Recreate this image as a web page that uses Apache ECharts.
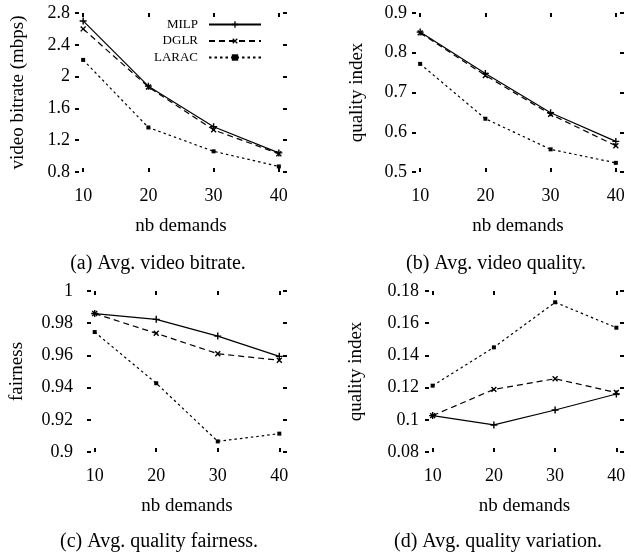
<!DOCTYPE html>
<html><head><meta charset="utf-8">
<script src="https://cdn.jsdelivr.net/npm/echarts@6/dist/echarts.min.js"></script>
<style>html,body{margin:0;padding:0;background:#fff}#c{width:631px;height:554px}</style>
</head><body><div id="c"></div>
<script>
// ---- data ----
const demands = [10, 20, 30, 40];
const seriesNames = ['MILP', 'DGLR', 'LARAC'];

const bitrateMILP  = [2.70, 1.88, 1.37, 1.04];
const bitrateDGLR  = [2.60, 1.87, 1.33, 1.03];
const bitrateLARAC = [2.21, 1.36, 1.06, 0.87];

const qualityMILP  = [0.852, 0.748, 0.649, 0.577];
const qualityDGLR  = [0.850, 0.743, 0.645, 0.566];
const qualityLARAC = [0.772, 0.634, 0.557, 0.523];

const fairnessMILP  = [0.986, 0.9824, 0.972, 0.9594];
const fairnessDGLR  = [0.986, 0.9737, 0.961, 0.957];
const fairnessLARAC = [0.9745, 0.9427, 0.9066, 0.9114];

const variationMILP  = [0.1026, 0.0968, 0.1061, 0.116];
const variationDGLR  = [0.1026, 0.1189, 0.1255, 0.1169];
const variationLARAC = [0.1212, 0.145, 0.173, 0.1572];

const yTicksA = [0.8, 1.2, 1.6, 2, 2.4, 2.8];
const yTicksB = [0.5, 0.6, 0.7, 0.8, 0.9];
const yTicksC = [0.9, 0.92, 0.94, 0.96, 0.98, 1];
const yTicksD = [0.08, 0.1, 0.12, 0.14, 0.16, 0.18];

const captions = ['(a) Avg. video bitrate.', '(b) Avg. video quality.', '(c) Avg. quality fairness.', '(d) Avg. quality variation.'];
const yNames = ['video bitrate (mbps)', 'quality index', 'fairness', 'quality index'];
const xName = 'nb demands';

// ---- styling / layout ----
const FONT = '"Liberation Serif","Times New Roman",serif';
const plusPath = 'path://M0,4H10V6H0Z M4,0H6V10H4Z';
const styles = {
  MILP:  {symbol: plusPath, symbolSize: 7, symbolRotate: 0,  type: 'solid'},
  DGLR:  {symbol: plusPath, symbolSize: 7, symbolRotate: 45, type: [6, 4]},
  LARAC: {symbol: 'rect',   symbolSize: 4, symbolRotate: 0,  type: [2.5, 3]}
};

const panels = [
  {grid: {left: 75, top: 13, width: 212, height: 159}, ticks: yTicksA, nameGap: 47, labelMargin: 5, data: [bitrateMILP, bitrateDGLR, bitrateLARAC], cx: 158, cy: 264},
  {grid: {left: 412, top: 13, width: 212, height: 159}, ticks: yTicksB, nameGap: 45, labelMargin: 5, data: [qualityMILP, qualityDGLR, qualityLARAC], cx: 496, cy: 264},
  {grid: {left: 87, top: 291, width: 200, height: 161}, ticks: yTicksC, nameGap: 60, labelMargin: 14, data: [fairnessMILP, fairnessDGLR, fairnessLARAC], cx: 159, cy: 542},
  {grid: {left: 425, top: 291, width: 199, height: 161}, ticks: yTicksD, nameGap: 59, labelMargin: 6, data: [variationMILP, variationDGLR, variationLARAC], cx: 498, cy: 542}
];

const textBase = {fontFamily: FONT, color: '#000'};
const tickStyle = (inside) => ({show: true, inside: inside, length: 4, lineStyle: {color: '#000', width: 2}});
const grids = [], xAxes = [], yAxes = [], series = [], graphics = [];

panels.forEach((p, i) => {
  const yMin = p.ticks[0], yMax = p.ticks[p.ticks.length - 1];
  const yInt = +(p.ticks[1] - p.ticks[0]).toFixed(6);
  const mkGrid = () => Object.assign({outerBoundsMode: 'none', containLabel: false}, p.grid);
  const xBase = (g) => ({type: 'value', gridIndex: g, min: 8.75, max: 41.25,
    axisLine: {show: false, onZero: false}, splitLine: {show: false}});
  const yBase = (g) => ({type: 'value', gridIndex: g, min: yMin, max: yMax, interval: yInt,
    axisLine: {show: false, onZero: false}, splitLine: {show: false}});

  // main grid: labelled bottom x axis, labelled left y axis, the series
  const gMain = grids.length; grids.push(mkGrid());
  const xMain = xAxes.length;
  xAxes.push(Object.assign(xBase(gMain), {
    position: 'bottom',
    name: xName, nameLocation: 'middle', nameGap: 45,
    nameTextStyle: Object.assign({fontSize: 19}, textBase),
    axisTick: Object.assign({customValues: demands}, tickStyle(true)),
    axisLabel: Object.assign({customValues: demands, margin: 15, fontSize: 18}, textBase)
  }));
  const yMain = yAxes.length;
  yAxes.push(Object.assign(yBase(gMain), {
    position: 'left',
    axisTick: tickStyle(true),
    name: yNames[i], nameLocation: 'middle', nameGap: p.nameGap,
    nameTextStyle: Object.assign({fontSize: 19}, textBase),
    axisLabel: Object.assign({margin: p.labelMargin, fontSize: 18}, textBase)
  }));
  seriesNames.forEach((name, k) => {
    const st = styles[name];
    series.push({
      type: 'line', name: name, xAxisIndex: xMain, yAxisIndex: yMain,
      data: demands.map((d, j) => [d, p.data[k][j]]),
      symbol: st.symbol, symbolSize: st.symbolSize, symbolRotate: st.symbolRotate,
      showAllSymbol: true,
      lineStyle: {color: '#000', width: 1.2, type: st.type},
      itemStyle: {color: '#000'},
      z: 5 - k
    });
  });

  // overlay grid 1: top x ticks
  const g1 = grids.length; grids.push(mkGrid());
  const x1 = xAxes.length;
  xAxes.push(Object.assign(xBase(g1), {position: 'top',
    axisTick: Object.assign({customValues: demands}, tickStyle(true)), axisLabel: {show: false}}));
  const y1 = yAxes.length;
  yAxes.push(Object.assign(yBase(g1), {position: 'left', show: false}));
  series.push({type: 'line', xAxisIndex: x1, yAxisIndex: y1, data: [], silent: true});

  // overlay grid 2: right y ticks
  const g2 = grids.length; grids.push(mkGrid());
  const x2 = xAxes.length;
  xAxes.push(Object.assign(xBase(g2), {position: 'bottom', show: false}));
  const y2 = yAxes.length;
  yAxes.push(Object.assign(yBase(g2), {position: 'right', axisTick: tickStyle(true), axisLabel: {show: false}}));
  series.push({type: 'line', xAxisIndex: x2, yAxisIndex: y2, data: [], silent: true});

  // overlay grid 3: left-edge y ticks (right-type axis shifted onto the left edge, ticks pointing inward)
  const g3 = grids.length; grids.push(mkGrid());
  const x3 = xAxes.length;
  xAxes.push(Object.assign(xBase(g3), {position: 'bottom', show: false}));
  const y3 = yAxes.length;
  yAxes.push(Object.assign(yBase(g3), {position: 'right', offset: -p.grid.width,
    axisTick: tickStyle(false), axisLabel: {show: false}}));
  series.push({type: 'line', xAxisIndex: x3, yAxisIndex: y3, data: [], silent: true});

  graphics.push({type: 'text', x: p.cx, y: p.cy,
    style: {text: captions[i], font: '20px ' + FONT, fill: '#000', align: 'center', verticalAlign: 'middle'}});
});

const legends = seriesNames.map((name, k) => ({
  data: [name], orient: 'vertical', align: 'right',
  right: 369, top: 18 + k * 16.5, padding: 0,
  itemWidth: 52, itemHeight: 8,
  textStyle: Object.assign({fontSize: 13, padding: [0, 6, 0, 0]}, textBase),
  selectedMode: false
}));

const chart = echarts.init(document.getElementById('c'), null, {renderer: 'canvas'});
chart.setOption({
  backgroundColor: '#fff',
  animation: false,
  grid: grids, xAxis: xAxes, yAxis: yAxes, series: series,
  legend: legends,
  graphic: graphics
});
</script>
</body></html>
